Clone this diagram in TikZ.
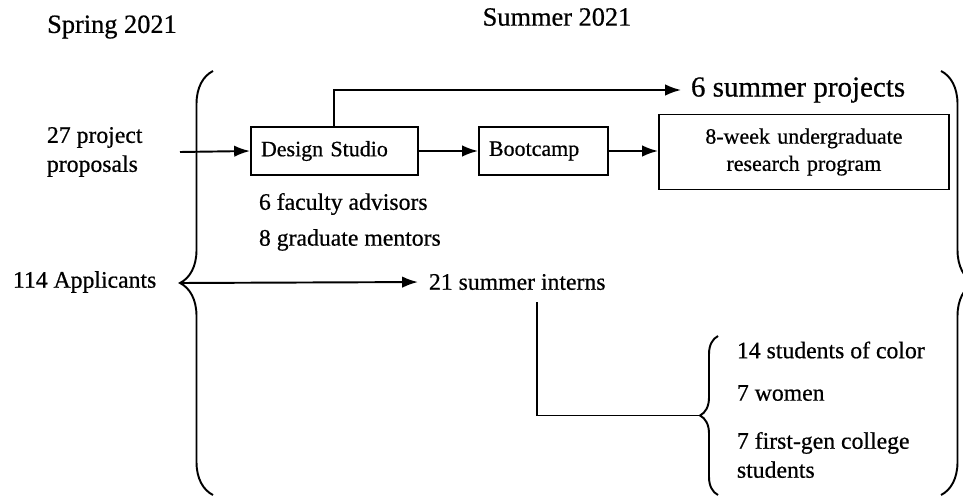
\documentclass[tikz,border=0pt]{standalone}
\usepackage{fontspec}
\setmainfont{Liberation Serif}[UprightFeatures={FakeBold=0.6}]
\usetikzlibrary{arrows.meta, positioning, decorations.pathreplacing}

\begin{document}
\begin{tikzpicture}[x=0.02cm, y=-0.02cm, >={Latex[length=9pt,width=6.5pt]}, line width=1.1pt,
  every node/.style={inner sep=0pt},
  txt/.style={font=\fontsize{13.5}{16.5}\selectfont, anchor=west, align=left},
  head/.style={font=\fontsize{15}{18}\selectfont},
  box/.style={draw, inner xsep=0.2cm, minimum height=0.96cm, font=\fontsize{12.5}{15.5}\selectfont},
  curly/.style={decorate, decoration={brace, amplitude=#1}}]
\useasboundingbox (0,0) rectangle (963,500);

\node[head] (spring) at (112,27) {Spring 2021};
\node[head] (summer) at (557,17) {Summer 2021};

% big braces
\draw[curly=0.66cm] (213,495) -- (213,71);
\draw[curly=0.66cm] (941,71) -- (941,495);
\coordinate (lbtip) at (180,283);

\node[txt] (props) at (46,152) {27 project\\proposals};
\node[box, anchor=west, text width=2.94cm, align=left] (design) at (250,151) {Design Studio};
\node[box, anchor=west, text width=2.18cm, align=left] (boot) at (478,151) {Bootcamp};
\node[box, anchor=west, text width=5.4cm, align=center, minimum height=1.5cm] (prog) at (658,152)
  {8-week undergraduate\\research program};
\node[anchor=west, font=\fontsize{16.5}{20}\selectfont] (projects) at (690,90) {6 summer projects};

\draw[->] (props.east -| lbtip) -- (design.west);
\draw[->] (design) -- (boot);
\draw[->] (boot.east) -- (boot.east -| prog.west);
\draw[->, shorten >=0.18cm] (design.north) |- (projects.west);

\node[txt] (advisors) at (258,204) {6 faculty advisors};
\node[txt] (mentors) at (258,240) {8 graduate mentors};

\node[txt] (applicants) at (12,282) {114 Applicants};
\node[txt] (interns) at (428,282) {21 summer interns};
\draw[->, shorten >=0.2cm] (lbtip) -- (interns.west);

% interns breakdown
\draw[curly=0.36cm] (718,495) -- (718,336);
\coordinate (sbtip) at (700,415.5);
\coordinate (drop) at (537,302);
\draw (drop) |- (sbtip);

\node[txt] (color) at (736,350) {14 students of color};
\node[txt] (women) at (736,393) {7 women};
\node[txt] (firstgen) at (736,455) {7 first-gen college\\students};
\end{tikzpicture}
\end{document}
